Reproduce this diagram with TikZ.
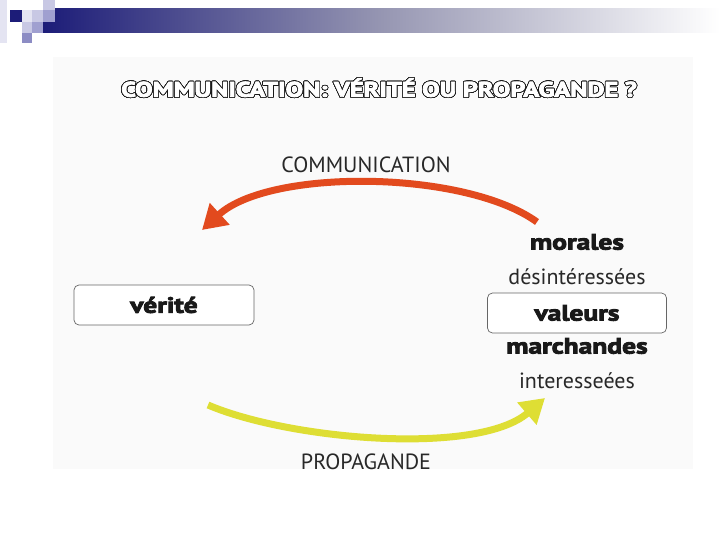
\documentclass[tikz,border=0pt]{standalone}
\usepackage{fontspec}
\setmainfont{PT Sans}
\newfontfamily\heavyfont{PT Sans Bold}[FakeBold=4, FakeStretch=1.25]
\usepackage{contour}
\usetikzlibrary{arrows.meta,shadings}
\definecolor{navy}{RGB}{28,28,120}
\definecolor{barmid}{RGB}{150,150,178}
\definecolor{lav1}{RGB}{200,200,228}
\definecolor{lav2}{RGB}{160,160,208}
\definecolor{lav3}{RGB}{140,140,196}
\definecolor{lav0}{RGB}{228,228,242}
\definecolor{panel}{RGB}{250,250,250}
\definecolor{redarrow}{RGB}{226,74,30}
\definecolor{yelarrow}{RGB}{222,222,52}
\definecolor{ink}{RGB}{25,25,25}
\definecolor{inkreg}{RGB}{40,40,40}
\tikzset{
  regtext/.style={text=inkreg, font=\fontsize{22}{24}\selectfont, inner sep=0pt},
  heavytext/.style={text=ink, font=\heavyfont\fontsize{22}{24}\selectfont, inner sep=0pt},
  rbox/.style={draw=gray!80!black, line width=0.7pt, rounded corners=5pt, fill=white},
  bigarrow/.style={line width=7pt, -{Triangle[length=24pt,width=28pt]}},
}
\contourlength{0.7pt}
\contournumber{32}
\begin{document}
\begin{tikzpicture}[x=1pt,y=-1pt]
\useasboundingbox (0,0) rectangle (720,540);
\fill[white] (0,0) rectangle (720,540);
% header decoration
\fill[lav0] (0,0) rectangle (7,43);
\shade[left color=navy, right color=white, middle color=barmid] (43,9) rectangle (720,33);
\fill[navy] (10,10) rectangle (22,22);
\fill[lav0] (22,10) rectangle (32,22);
\fill[lav1] (32,10) rectangle (43,22);
\fill[lav1] (43,0) rectangle (55,10);
\fill[lav2] (43,10) rectangle (55,22);
\fill[lav1] (22,22) rectangle (32,33);
\fill[lav2] (32,22) rectangle (43,33);
\fill[lav3] (22,33) rectangle (32,43);
% panel
\fill[panel] (53,57) rectangle (693,469);
% title
\node[inner sep=0pt, font=\heavyfont\fontsize{21}{23}\selectfont] (title) at (379,88)
  {\contour{ink}{\color{white}COMMUNICATION: VÉRITÉ OU PROPAGANDE ?}};
% boxes
\node[rbox, minimum width=180pt, minimum height=40pt] (verite) at (164,305) {};
\node[heavytext] (veritetxt) at (164,305) {vérité};
\node[rbox, minimum width=179pt, minimum height=40pt] (valeurs) at (577,313) {};
\node[heavytext] (valeurstxt) at (577,313) {valeurs};
% right column texts
\node[heavytext] (morales) at (577,242) {morales};
\node[regtext] (desint) at (577,277) {désintéressées};
\node[heavytext] (marchandes) at (577,346) {marchandes};
\node[regtext] (interess) at (577,381) {interesseées};
% arrow labels
\node[regtext] (comm) at (366,165) {COMMUNICATION};
\node[regtext] (propa) at (366,462) {PROPAGANDE};
% arrows
\coordinate (rs) at (537,222);
\coordinate (rt) at (202,230);
\coordinate (ys) at (208,405);
\coordinate (yt) at (545,398);
\draw[bigarrow, redarrow] (rs) .. controls (465,170) and (270,168) .. (rt);
\draw[bigarrow, yelarrow] (ys) .. controls (290,440) and (478,456) .. (yt);
\end{tikzpicture}
\end{document}
